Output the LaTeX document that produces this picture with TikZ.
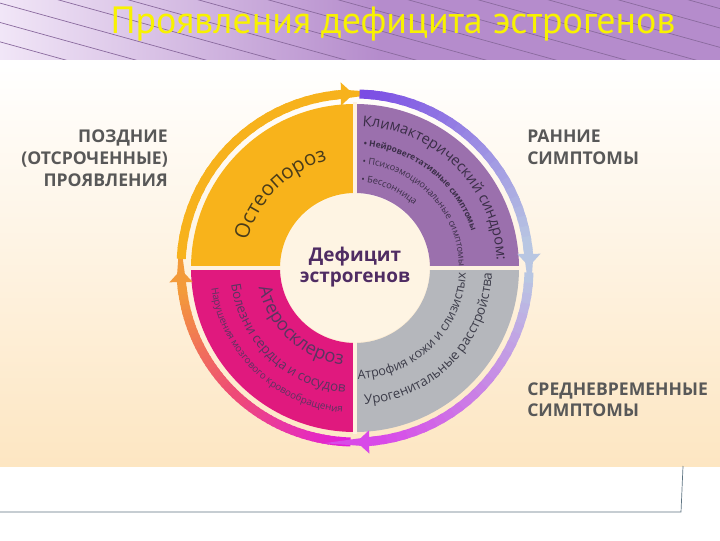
\documentclass[tikz,border=0pt]{standalone}
\usepackage{fontspec}
\setmainfont{Open Sans}
\newfontfamily\titlefont{PT Sans}
\usetikzlibrary{arrows.meta,decorations.text}

\definecolor{qyellow}{HTML}{F8B31B}
\definecolor{qpurple}{HTML}{9B70AD}
\definecolor{qpink}{HTML}{E0197E}
\definecolor{qgrey}{HTML}{B5B7BC}
\definecolor{bandpurple}{HTML}{B58CCC}
\definecolor{bandlight}{HTML}{F1E6F7}
\definecolor{bandline}{HTML}{8A6A9E}
\definecolor{peach}{HTML}{FDE6C2}
\definecolor{titleyellow}{HTML}{F8F200}
\definecolor{sidegrey}{HTML}{585858}
\definecolor{centretext}{HTML}{4F2C63}
\definecolor{rulecol}{HTML}{5E7482}
\definecolor{ringyellow}{HTML}{F7B21C}
\definecolor{ringmag}{HTML}{E21EDC}
\definecolor{ringred}{HTML}{EE4A78}
\definecolor{ringorange}{HTML}{F39A3A}
\definecolor{ringviolet}{HTML}{7A4BE4}
\definecolor{ringsteel}{HTML}{B8C6E2}
\definecolor{ringlilac}{HTML}{D84AE8}
\definecolor{osteotext}{HTML}{4A3C1A}
\definecolor{climtext}{HTML}{3B2E48}
\definecolor{pinktext}{HTML}{5A3560}
\definecolor{greytext}{HTML}{3D3D4A}

\newcommand{\ringarc}[4]{%
\foreach \k in {0,...,23}{
	\pgfmathsetmacro{\ta}{#1+(#2-#1)*\k/24}
	\pgfmathsetmacro{\tb}{#1+(#2-#1)*(\k+1.4)/24}
	\pgfmathtruncatemacro{\pc}{100-100*\k/23}
	\draw[ring,color=#3!\pc!#4] (\ta:174) arc[start angle=\ta,end angle=\tb,radius=174];
}}

\newcommand{\bendtext}[6][center]{%
\path[decorate,decoration={text along path,text align=#1,text={|#5|#6}}]
	(#3:#2) arc[start angle=#3,end angle=#4,radius=#2];}

\begin{document}
\begin{tikzpicture}[x=0.025cm,y=0.025cm,
	sidelabel/.style={font=\bfseries\fontsize{12.5}{15}\selectfont,text=sidegrey,inner sep=0pt},
	centrelabel/.style={font=\bfseries\fontsize{13.5}{16}\selectfont,text=centretext,inner sep=0pt},
	ring/.style={line width=6.4pt},
	ringtip/.style={line width=6.4pt,-{Triangle[width=16pt,length=9pt]}},
	gapline/.style={line width=3.4pt,color=white!50!peach}]

\useasboundingbox (0,0) rectangle (720,540);
\fill[white] (0,0) rectangle (720,540);
\shade[top color=white,bottom color=peach] (0,74) rectangle (720,476);
\shade[left color=bandlight,right color=bandpurple] (0,480) rectangle (380,540);
\fill[bandpurple] (379,480) rectangle (720,540);
\begin{scope}
	\clip (0,480) rectangle (720,540);
	\foreach \s in {-180,-110,...,720} \draw[line width=0.5pt,bandline] (\s,548) -- ++(260,-72);
\end{scope}
\draw[rulecol,line width=0.5pt] (0,28) -- (681,28) -- (683,74);

\node[font=\titlefont\fontsize{27}{30}\selectfont,text=titleyellow,anchor=base,inner sep=0pt] (title) at (393,506) {Проявления дефицита эстрогенов};

\begin{scope}[shift={(355,272)}]
	\fill[qyellow] (90:164) arc[start angle=90,end angle=180,radius=164] -- (180:75) arc[start angle=180,end angle=90,radius=75] -- cycle;
	\fill[qpurple] (0:164) arc[start angle=0,end angle=90,radius=164] -- (90:75) arc[start angle=90,end angle=0,radius=75] -- cycle;
	\fill[qgrey] (270:164) arc[start angle=270,end angle=360,radius=164] -- (0:75) arc[start angle=360,end angle=270,radius=75] -- cycle;
	\fill[qpink] (180:164) arc[start angle=180,end angle=270,radius=164] -- (270:75) arc[start angle=270,end angle=180,radius=75] -- cycle;
	\draw[gapline] (-166,0) -- (166,0) (0,-166) -- (0,166);
	\fill[white!55!peach] (0,0) circle[radius=74];

	\bendtext{111}{172}{98}{\color{osteotext}\fontsize{14.5}{16}\selectfont}{Остеопороз}
	\bendtext{142}{89}{1}{\color{climtext}\fontsize{10.5}{12}\selectfont}{Климактерический синдром:}
	\bendtext[left]{122}{86}{5}{\color{climtext}\bfseries\fontsize{6}{7}\selectfont}{• Нейровегетативные симптомы}
	\bendtext[left]{104}{86}{2}{\color{climtext}\fontsize{6.5}{8}\selectfont}{• Психоэмоциональные симптомы}
	\bendtext[left]{86}{86}{30}{\color{climtext}\fontsize{6.5}{8}\selectfont}{• Бессонница}
	\bendtext{98}{182}{272}{\color{pinktext}\fontsize{13}{15}\selectfont}{Атеросклероз}
	\bendtext{125}{182}{271}{\color{pinktext}\fontsize{9.5}{11}\selectfont}{Болезни сердца и сосудов}
	\bendtext{145}{182}{271}{\color{pinktext}\fontsize{7}{8}\selectfont}{Нарушения мозгового кровообращения}
	\bendtext{111}{270}{359}{\color{greytext}\fontsize{9}{11}\selectfont}{Атрофия кожи и слизистых}
	\bendtext{137}{272}{360}{\color{greytext}\fontsize{9.5}{11}\selectfont}{Урогенитальные расстройства}

	\ringarc{268.5}{227}{ringmag}{ringred}
	\ringarc{227}{187}{ringred}{ringorange}
	\draw[ringtip,ringorange] (188:174) arc[start angle=188,end angle=180.5,radius=174];
	\ringarc{177}{97}{ringyellow}{ringyellow}
	\draw[ringtip,ringyellow] (98:174) arc[start angle=98,end angle=90.5,radius=174];
	\ringarc{88.5}{7}{ringviolet}{ringsteel}
	\draw[ringtip,ringsteel] (8:174) arc[start angle=8,end angle=0.5,radius=174];
	\ringarc{358.5}{277}{ringsteel}{ringlilac}
	\draw[ringtip,ringlilac] (278:174) arc[start angle=278,end angle=270.5,radius=174];
\end{scope}

\node[centrelabel,anchor=base] (deficit) at (355,279) {Дефицит};
\node[centrelabel,anchor=base] (estrogens) at (355,258) {эстрогенов};

\node[sidelabel,anchor=base east] (late1) at (168,397) {ПОЗДНИЕ};
\node[sidelabel,anchor=base east] (late2) at (168,375) {(ОТСРОЧЕННЫЕ)};
\node[sidelabel,anchor=base east] (late3) at (168,353) {ПРОЯВЛЕНИЯ};
\node[sidelabel,anchor=base west] (early1) at (527,397) {РАННИЕ};
\node[sidelabel,anchor=base west] (early2) at (527,375) {СИМПТОМЫ};
\node[sidelabel,anchor=base west] (mid1) at (527,145) {СРЕДНЕВРЕМЕННЫЕ};
\node[sidelabel,anchor=base west] (mid2) at (527,124) {СИМПТОМЫ};
\end{tikzpicture}
\end{document}
